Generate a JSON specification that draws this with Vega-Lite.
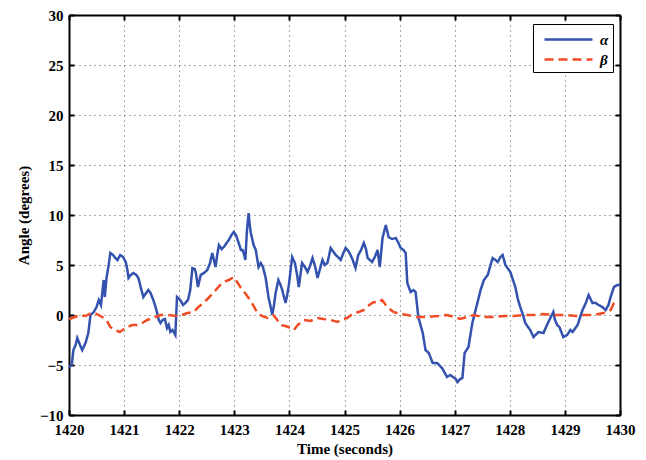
{
  "$schema": "https://vega.github.io/schema/vega-lite/v6.json",
  "width": 551,
  "height": 400,
  "autosize": {"type": "none"},
  "padding": {"left": 69, "top": 15, "right": 26, "bottom": 45},
  "background": "white",
  "config": {
    "view": {"stroke": null},
    "font": "Liberation Serif"
  },
  "data": {"values": [
    {"s":"α","t":1420.00,"v":-5.2},{"s":"α","t":1420.05,"v":-5.0},{"s":"α","t":1420.08,"v":-3.5},{"s":"α","t":1420.12,"v":-3.0},{"s":"α","t":1420.15,"v":-2.3},{"s":"α","t":1420.2,"v":-3.0},{"s":"α","t":1420.24,"v":-3.5},{"s":"α","t":1420.3,"v":-2.8},{"s":"α","t":1420.35,"v":-1.8},{"s":"α","t":1420.39,"v":0.0},{"s":"α","t":1420.45,"v":0.3},{"s":"α","t":1420.5,"v":0.8},{"s":"α","t":1420.54,"v":1.5},{"s":"α","t":1420.58,"v":1.0},{"s":"α","t":1420.63,"v":3.5},{"s":"α","t":1420.65,"v":1.8},{"s":"α","t":1420.68,"v":3.7},{"s":"α","t":1420.72,"v":5.0},{"s":"α","t":1420.75,"v":6.2},{"s":"α","t":1420.8,"v":6.0},{"s":"α","t":1420.84,"v":5.7},{"s":"α","t":1420.88,"v":5.5},{"s":"α","t":1420.93,"v":6.0},{"s":"α","t":1420.98,"v":5.8},{"s":"α","t":1421.03,"v":5.3},{"s":"α","t":1421.06,"v":4.5},{"s":"α","t":1421.08,"v":3.7},{"s":"α","t":1421.12,"v":4.0},{"s":"α","t":1421.17,"v":4.2},{"s":"α","t":1421.22,"v":4.0},{"s":"α","t":1421.26,"v":3.7},{"s":"α","t":1421.3,"v":2.8},{"s":"α","t":1421.35,"v":1.8},{"s":"α","t":1421.4,"v":2.2},{"s":"α","t":1421.44,"v":2.5},{"s":"α","t":1421.48,"v":2.2},{"s":"α","t":1421.53,"v":1.5},{"s":"α","t":1421.57,"v":0.8},{"s":"α","t":1421.6,"v":0.2},{"s":"α","t":1421.63,"v":-0.5},{"s":"α","t":1421.66,"v":-0.8},{"s":"α","t":1421.7,"v":-0.5},{"s":"α","t":1421.74,"v":-0.4},{"s":"α","t":1421.78,"v":-1.3},{"s":"α","t":1421.81,"v":-1.0},{"s":"α","t":1421.84,"v":-1.7},{"s":"α","t":1421.88,"v":-1.5},{"s":"α","t":1421.93,"v":-2.0},{"s":"α","t":1421.96,"v":1.8},{"s":"α","t":1422.0,"v":1.6},{"s":"α","t":1422.02,"v":1.5},{"s":"α","t":1422.07,"v":1.0},{"s":"α","t":1422.11,"v":1.2},{"s":"α","t":1422.16,"v":1.5},{"s":"α","t":1422.2,"v":2.5},{"s":"α","t":1422.24,"v":4.7},{"s":"α","t":1422.28,"v":4.6},{"s":"α","t":1422.3,"v":4.3},{"s":"α","t":1422.34,"v":2.8},{"s":"α","t":1422.39,"v":4.0},{"s":"α","t":1422.45,"v":4.2},{"s":"α","t":1422.51,"v":4.5},{"s":"α","t":1422.56,"v":5.2},{"s":"α","t":1422.6,"v":6.2},{"s":"α","t":1422.63,"v":5.5},{"s":"α","t":1422.66,"v":4.8},{"s":"α","t":1422.69,"v":6.0},{"s":"α","t":1422.72,"v":7.0},{"s":"α","t":1422.77,"v":6.6},{"s":"α","t":1422.81,"v":6.8},{"s":"α","t":1422.86,"v":7.2},{"s":"α","t":1422.9,"v":7.5},{"s":"α","t":1422.95,"v":8.0},{"s":"α","t":1422.99,"v":8.3},{"s":"α","t":1423.03,"v":8.0},{"s":"α","t":1423.08,"v":7.2},{"s":"α","t":1423.12,"v":6.5},{"s":"α","t":1423.15,"v":6.5},{"s":"α","t":1423.18,"v":6.0},{"s":"α","t":1423.2,"v":5.5},{"s":"α","t":1423.23,"v":8.5},{"s":"α","t":1423.26,"v":10.2},{"s":"α","t":1423.28,"v":9.0},{"s":"α","t":1423.3,"v":8.2},{"s":"α","t":1423.35,"v":7.0},{"s":"α","t":1423.39,"v":6.5},{"s":"α","t":1423.44,"v":4.8},{"s":"α","t":1423.48,"v":5.2},{"s":"α","t":1423.52,"v":4.8},{"s":"α","t":1423.57,"v":3.7},{"s":"α","t":1423.62,"v":1.8},{"s":"α","t":1423.66,"v":0.8},{"s":"α","t":1423.69,"v":0.0},{"s":"α","t":1423.72,"v":1.0},{"s":"α","t":1423.75,"v":2.2},{"s":"α","t":1423.8,"v":3.5},{"s":"α","t":1423.84,"v":3.0},{"s":"α","t":1423.87,"v":2.5},{"s":"α","t":1423.93,"v":1.2},{"s":"α","t":1423.96,"v":2.0},{"s":"α","t":1423.99,"v":3.0},{"s":"α","t":1424.05,"v":5.8},{"s":"α","t":1424.1,"v":5.2},{"s":"α","t":1424.14,"v":4.0},{"s":"α","t":1424.17,"v":2.8},{"s":"α","t":1424.23,"v":5.2},{"s":"α","t":1424.28,"v":4.8},{"s":"α","t":1424.33,"v":4.3},{"s":"α","t":1424.38,"v":5.0},{"s":"α","t":1424.42,"v":5.7},{"s":"α","t":1424.47,"v":4.8},{"s":"α","t":1424.51,"v":3.7},{"s":"α","t":1424.55,"v":4.5},{"s":"α","t":1424.6,"v":5.5},{"s":"α","t":1424.64,"v":5.0},{"s":"α","t":1424.69,"v":5.2},{"s":"α","t":1424.75,"v":6.7},{"s":"α","t":1424.8,"v":6.3},{"s":"α","t":1424.84,"v":6.0},{"s":"α","t":1424.88,"v":5.8},{"s":"α","t":1424.93,"v":5.5},{"s":"α","t":1424.98,"v":6.2},{"s":"α","t":1425.02,"v":6.7},{"s":"α","t":1425.07,"v":6.4},{"s":"α","t":1425.11,"v":6.0},{"s":"α","t":1425.15,"v":5.5},{"s":"α","t":1425.2,"v":4.7},{"s":"α","t":1425.25,"v":6.0},{"s":"α","t":1425.3,"v":6.5},{"s":"α","t":1425.35,"v":7.2},{"s":"α","t":1425.39,"v":6.6},{"s":"α","t":1425.42,"v":5.7},{"s":"α","t":1425.46,"v":5.5},{"s":"α","t":1425.5,"v":5.3},{"s":"α","t":1425.55,"v":5.8},{"s":"α","t":1425.6,"v":6.5},{"s":"α","t":1425.64,"v":4.8},{"s":"α","t":1425.69,"v":7.7},{"s":"α","t":1425.75,"v":9.0},{"s":"α","t":1425.8,"v":7.8},{"s":"α","t":1425.86,"v":7.6},{"s":"α","t":1425.93,"v":7.7},{"s":"α","t":1425.98,"v":7.2},{"s":"α","t":1426.02,"v":6.7},{"s":"α","t":1426.07,"v":6.5},{"s":"α","t":1426.11,"v":6.2},{"s":"α","t":1426.14,"v":3.2},{"s":"α","t":1426.2,"v":2.3},{"s":"α","t":1426.25,"v":2.5},{"s":"α","t":1426.29,"v":2.3},{"s":"α","t":1426.34,"v":-0.2},{"s":"α","t":1426.42,"v":-1.8},{"s":"α","t":1426.47,"v":-3.5},{"s":"α","t":1426.53,"v":-3.8},{"s":"α","t":1426.6,"v":-4.8},{"s":"α","t":1426.68,"v":-4.8},{"s":"α","t":1426.77,"v":-5.3},{"s":"α","t":1426.86,"v":-6.2},{"s":"α","t":1426.92,"v":-6.0},{"s":"α","t":1426.97,"v":-6.2},{"s":"α","t":1427.02,"v":-6.4},{"s":"α","t":1427.05,"v":-6.7},{"s":"α","t":1427.1,"v":-6.4},{"s":"α","t":1427.14,"v":-6.3},{"s":"α","t":1427.18,"v":-3.8},{"s":"α","t":1427.25,"v":-3.2},{"s":"α","t":1427.32,"v":-0.8},{"s":"α","t":1427.38,"v":0.5},{"s":"α","t":1427.47,"v":2.5},{"s":"α","t":1427.53,"v":3.5},{"s":"α","t":1427.6,"v":4.0},{"s":"α","t":1427.65,"v":5.0},{"s":"α","t":1427.69,"v":5.7},{"s":"α","t":1427.74,"v":5.5},{"s":"α","t":1427.78,"v":5.3},{"s":"α","t":1427.83,"v":5.8},{"s":"α","t":1427.87,"v":6.0},{"s":"α","t":1427.92,"v":5.0},{"s":"α","t":1428.01,"v":4.3},{"s":"α","t":1428.1,"v":2.8},{"s":"α","t":1428.15,"v":1.5},{"s":"α","t":1428.19,"v":0.8},{"s":"α","t":1428.24,"v":0.0},{"s":"α","t":1428.28,"v":-0.8},{"s":"α","t":1428.37,"v":-1.5},{"s":"α","t":1428.43,"v":-2.2},{"s":"α","t":1428.52,"v":-1.7},{"s":"α","t":1428.61,"v":-1.8},{"s":"α","t":1428.7,"v":-0.7},{"s":"α","t":1428.79,"v":0.3},{"s":"α","t":1428.82,"v":-0.5},{"s":"α","t":1428.86,"v":-1.0},{"s":"α","t":1428.9,"v":-1.2},{"s":"α","t":1428.97,"v":-2.2},{"s":"α","t":1429.04,"v":-2.0},{"s":"α","t":1429.1,"v":-1.5},{"s":"α","t":1429.14,"v":-1.7},{"s":"α","t":1429.23,"v":-1.0},{"s":"α","t":1429.32,"v":0.5},{"s":"α","t":1429.38,"v":1.2},{"s":"α","t":1429.43,"v":2.0},{"s":"α","t":1429.5,"v":1.2},{"s":"α","t":1429.56,"v":1.2},{"s":"α","t":1429.61,"v":1.0},{"s":"α","t":1429.68,"v":0.8},{"s":"α","t":1429.74,"v":0.5},{"s":"α","t":1429.79,"v":1.0},{"s":"α","t":1429.83,"v":1.8},{"s":"α","t":1429.89,"v":2.8},{"s":"α","t":1429.95,"v":3.0},{"s":"α","t":1430.0,"v":3.0},
    {"s":"β","t":1420.0,"v":-0.4},{"s":"β","t":1420.06,"v":-0.3},{"s":"β","t":1420.2,"v":0.0},{"s":"β","t":1420.3,"v":-0.1},{"s":"β","t":1420.4,"v":0.2},{"s":"β","t":1420.5,"v":0.1},{"s":"β","t":1420.6,"v":-0.2},{"s":"β","t":1420.68,"v":-0.5},{"s":"β","t":1420.75,"v":-1.2},{"s":"β","t":1420.83,"v":-1.5},{"s":"β","t":1420.92,"v":-1.7},{"s":"β","t":1421.0,"v":-1.4},{"s":"β","t":1421.06,"v":-1.2},{"s":"β","t":1421.15,"v":-1.0},{"s":"β","t":1421.24,"v":-1.0},{"s":"β","t":1421.33,"v":-0.8},{"s":"β","t":1421.42,"v":-0.5},{"s":"β","t":1421.52,"v":-0.3},{"s":"β","t":1421.66,"v":0.0},{"s":"β","t":1421.8,"v":0.0},{"s":"β","t":1421.97,"v":-0.1},{"s":"β","t":1422.05,"v":0.0},{"s":"β","t":1422.15,"v":0.2},{"s":"β","t":1422.26,"v":0.3},{"s":"β","t":1422.35,"v":0.8},{"s":"β","t":1422.44,"v":1.2},{"s":"β","t":1422.53,"v":1.7},{"s":"β","t":1422.62,"v":2.2},{"s":"β","t":1422.71,"v":2.8},{"s":"β","t":1422.8,"v":3.3},{"s":"β","t":1422.9,"v":3.5},{"s":"β","t":1422.99,"v":3.8},{"s":"β","t":1423.05,"v":3.3},{"s":"β","t":1423.11,"v":2.8},{"s":"β","t":1423.18,"v":2.3},{"s":"β","t":1423.26,"v":1.7},{"s":"β","t":1423.34,"v":1.0},{"s":"β","t":1423.42,"v":0.2},{"s":"β","t":1423.5,"v":-0.1},{"s":"β","t":1423.6,"v":-0.3},{"s":"β","t":1423.71,"v":0.0},{"s":"β","t":1423.78,"v":-0.5},{"s":"β","t":1423.84,"v":-1.0},{"s":"β","t":1423.93,"v":-1.1},{"s":"β","t":1424.02,"v":-1.3},{"s":"β","t":1424.08,"v":-1.5},{"s":"β","t":1424.15,"v":-1.0},{"s":"β","t":1424.26,"v":-0.5},{"s":"β","t":1424.38,"v":-0.6},{"s":"β","t":1424.51,"v":-0.3},{"s":"β","t":1424.62,"v":-0.4},{"s":"β","t":1424.75,"v":-0.5},{"s":"β","t":1424.87,"v":-0.7},{"s":"β","t":1424.96,"v":-0.4},{"s":"β","t":1425.05,"v":-0.3},{"s":"β","t":1425.17,"v":0.2},{"s":"β","t":1425.26,"v":0.3},{"s":"β","t":1425.35,"v":0.5},{"s":"β","t":1425.45,"v":1.0},{"s":"β","t":1425.53,"v":1.3},{"s":"β","t":1425.6,"v":1.2},{"s":"β","t":1425.68,"v":1.5},{"s":"β","t":1425.75,"v":1.0},{"s":"β","t":1425.82,"v":0.6},{"s":"β","t":1425.89,"v":0.3},{"s":"β","t":1426.0,"v":0.1},{"s":"β","t":1426.14,"v":0.0},{"s":"β","t":1426.3,"v":-0.2},{"s":"β","t":1426.5,"v":-0.2},{"s":"β","t":1426.7,"v":-0.1},{"s":"β","t":1426.86,"v":0.0},{"s":"β","t":1427.0,"v":-0.2},{"s":"β","t":1427.1,"v":-0.4},{"s":"β","t":1427.22,"v":-0.2},{"s":"β","t":1427.35,"v":0.0},{"s":"β","t":1427.5,"v":-0.2},{"s":"β","t":1427.7,"v":-0.2},{"s":"β","t":1427.9,"v":-0.1},{"s":"β","t":1428.07,"v":-0.1},{"s":"β","t":1428.25,"v":0.0},{"s":"β","t":1428.43,"v":0.0},{"s":"β","t":1428.6,"v":0.1},{"s":"β","t":1428.8,"v":0.0},{"s":"β","t":1429.0,"v":0.0},{"s":"β","t":1429.2,"v":-0.1},{"s":"β","t":1429.35,"v":0.0},{"s":"β","t":1429.52,"v":0.0},{"s":"β","t":1429.7,"v":0.2},{"s":"β","t":1429.83,"v":0.5},{"s":"β","t":1429.89,"v":1.2},{"s":"β","t":1429.95,"v":1.3}
  ]},
  "resolve": {"axis": {"x": "independent", "y": "independent"}},
  "layer": [
    {
      "mark": {"type": "line", "strokeWidth": 2.5, "interpolate": "linear"},
      "encoding": {
        "x": {"field": "t", "type": "quantitative", "scale": {"domain": [1420, 1430], "nice": false, "zero": false},
          "axis": {"orient": "bottom", "title": "Time (seconds)", "titleFont": "Liberation Serif", "titleFontSize": 15, "titleFontWeight": "bold", "titleColor": "black", "titlePadding": 4,
            "values": [1420,1421,1422,1423,1424,1425,1426,1427,1428,1429,1430], "format": "d",
            "labelFont": "Liberation Serif", "labelFontSize": 15, "labelFontWeight": "bold", "labelColor": "black", "labelPadding": 12, "labelFlush": false,
            "tickSize": -5, "tickWidth": 2, "tickColor": "black", "domainColor": "black", "domainWidth": 2,
            "grid": true, "gridColor": "#555555", "gridDash": [1, 4], "gridWidth": 1}},
        "y": {"field": "v", "type": "quantitative", "scale": {"domain": [-10, 30], "nice": false, "zero": false},
          "axis": {"orient": "left", "title": "Angle (degrees)", "titleFont": "Liberation Serif", "titleFontSize": 15, "titleFontWeight": "bold", "titleColor": "black", "titlePadding": 8,
            "values": [-10,-5,0,5,10,15,20,25,30],
            "labelFont": "Liberation Serif", "labelFontSize": 15, "labelFontWeight": "bold", "labelColor": "black", "labelPadding": 11, "labelFlush": false,
            "tickSize": -5, "tickWidth": 2, "tickColor": "black", "domainColor": "black", "domainWidth": 2,
            "grid": true, "gridColor": "#555555", "gridDash": [1, 4], "gridWidth": 1}},
        "color": {"field": "s", "type": "nominal", "scale": {"domain": ["α", "β"], "range": ["#3252ae", "#f04c26"]},
          "legend": {"orient": "none", "legendX": 464, "legendY": 9, "title": null, "symbolType": "M-0.4,0H4.4", "symbolSize": 400, "symbolStrokeWidth": 2.5,
            "strokeColor": "black", "fillColor": "white", "padding": 4, "rowPadding": 0,
            "labelFont": "Liberation Serif", "labelFontSize": 15, "labelFontStyle": "italic", "labelFontWeight": "bold", "labelColor": "black", "labelOffset": 40}},
        "strokeDash": {"field": "s", "type": "nominal", "scale": {"domain": ["α", "β"], "range": [[1, 0], [9, 5]]},
          "legend": {"orient": "none", "legendX": 464, "legendY": 9, "title": null, "symbolType": "M-0.4,0H4.4", "symbolSize": 400, "symbolStrokeWidth": 2.5,
            "strokeColor": "black", "fillColor": "white", "padding": 4, "rowPadding": 0,
            "labelFont": "Liberation Serif", "labelFontSize": 15, "labelFontStyle": "italic", "labelFontWeight": "bold", "labelColor": "black", "labelOffset": 40}}
      }
    },
    {
      "mark": {"type": "line", "opacity": 0},
      "encoding": {
        "x": {"field": "t", "type": "quantitative",
          "axis": {"orient": "top", "labels": false, "title": null, "grid": false, "values": [1420,1421,1422,1423,1424,1425,1426,1427,1428,1429,1430], "tickSize": -5, "tickWidth": 2, "tickColor": "black", "domainColor": "black", "domainWidth": 2}},
        "y": {"field": "v", "type": "quantitative",
          "axis": {"orient": "right", "labels": false, "title": null, "grid": false, "values": [-10,-5,0,5,10,15,20,25,30], "tickSize": -5, "tickWidth": 2, "tickColor": "black", "domainColor": "black", "domainWidth": 2}}
      }
    }
  ]
}
